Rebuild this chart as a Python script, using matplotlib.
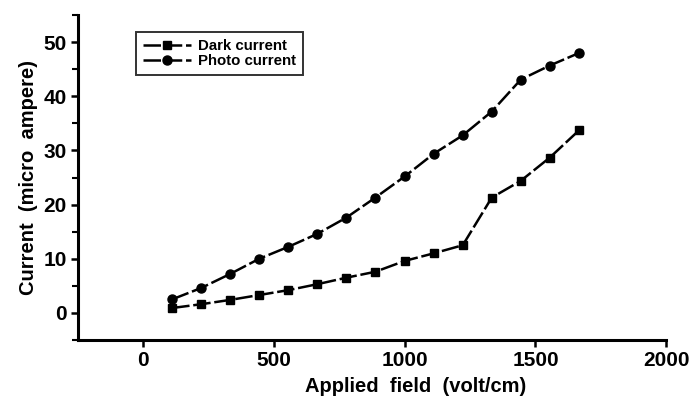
import matplotlib.pyplot as plt
from matplotlib.ticker import MultipleLocator

# Applied field (volt/cm) and currents (micro ampere)
field = [111, 222, 333, 444, 555, 666, 777, 888, 1000, 1111, 1222, 1333, 1444, 1555, 1666]
dark_current = [0.9, 1.6, 2.4, 3.3, 4.2, 5.3, 6.5, 7.6, 9.6, 11.0, 12.5, 21.3, 24.4, 28.7, 33.7]
photo_current = [2.5, 4.6, 7.2, 10.0, 12.2, 14.6, 17.6, 21.3, 25.2, 29.4, 32.8, 37.2, 43.1, 45.7, 48.0]

plt.rcParams['font.family'] = ['Liberation Sans', 'DejaVu Sans']
plt.rcParams['font.weight'] = 'bold'

fig = plt.figure(figsize=(6.94, 3.99), dpi=100)
ax = fig.add_axes([0.112, 0.148, 0.848, 0.814])

dash = (0, (7, 1.5))
ax.plot(field, dark_current, color='black', linestyle=dash, linewidth=1.8,
        marker='s', markersize=5.5, label='Dark current')
ax.plot(field, photo_current, color='black', linestyle=dash, linewidth=1.8,
        marker='o', markersize=6.5, label='Photo current')

ax.set_xlim(-250, 2000)
ax.set_ylim(-5, 55)
ax.xaxis.set_major_locator(MultipleLocator(500))
ax.yaxis.set_major_locator(MultipleLocator(10))
ax.yaxis.set_minor_locator(MultipleLocator(5))
ax.set_yticks(range(0, 51, 10))

for side in ['top', 'right']:
    ax.spines[side].set_visible(False)
for side in ['left', 'bottom']:
    ax.spines[side].set_linewidth(2.2)

ax.tick_params(axis='both', which='major', length=5, width=1.8, labelsize=15)
ax.tick_params(axis='y', which='minor', length=4, width=1.5)
ax.tick_params(axis='x', pad=3)
ax.tick_params(axis='y', pad=3)

ax.set_xlabel('Applied  field  (volt/cm)', fontsize=14.5, fontweight='bold', labelpad=1)
ax.xaxis.set_label_coords(0.575, -0.115)
ax.set_ylabel('Current  (micro  ampere)', fontsize=14.5, fontweight='bold', labelpad=4)

leg = ax.legend(loc='upper left', bbox_to_anchor=(0.099, 0.948), fontsize=10.8,
                frameon=True, fancybox=False, handlelength=3.2,
                borderpad=0.45, labelspacing=0.1, handletextpad=0.5,
                borderaxespad=0)
leg.get_frame().set_edgecolor('black')
leg.get_frame().set_linewidth(1.4)

fig.savefig('out.png', dpi=100)
